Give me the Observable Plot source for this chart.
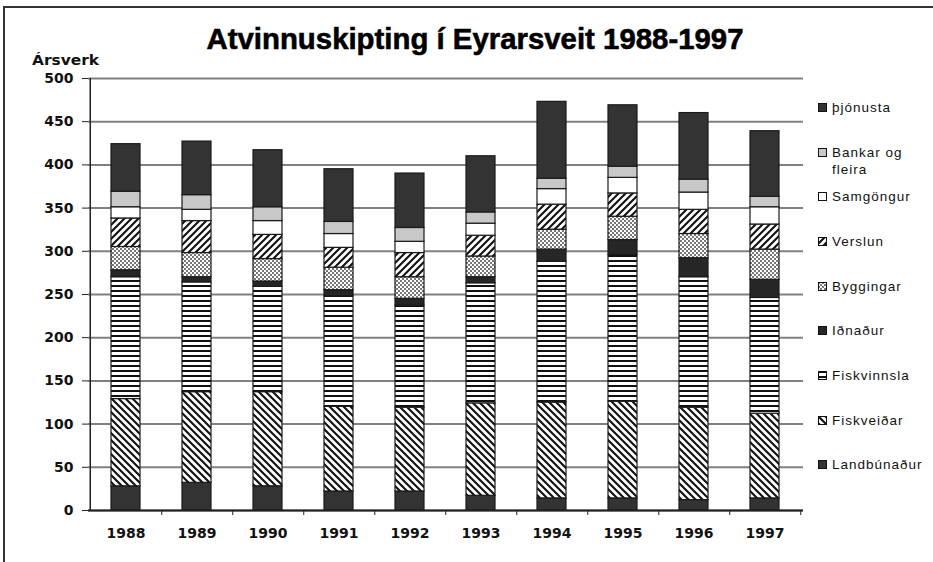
<!DOCTYPE html>
<html>
<head>
<meta charset="utf-8">
<script src="https://cdn.jsdelivr.net/npm/d3@7"></script>
<script src="https://cdn.jsdelivr.net/npm/@observablehq/plot@0.6"></script>
<style>
  body { margin: 0; background: #fff; }
  #wrap { position: relative; width: 933px; height: 562px; overflow: hidden; background: #fff; }
  #frameTop { position: absolute; left: 3px; top: 6px; width: 940px; height: 2px; background: #333; }
  #frameLeft { position: absolute; left: 3px; top: 6px; width: 2px; height: 600px; background: #333; }
  #overlay { position: absolute; left: 0; top: 0; pointer-events: none; }
  #legend { position: absolute; left: 818px; top: 0; font-family: "Liberation Sans", Arial, sans-serif; font-size: 13.5px; letter-spacing: 1px; color: #111; }
  .item { position: absolute; left: 0; display: flex; align-items: flex-start; white-space: nowrap; line-height: 17px; }
  .item svg { margin-top: 4px; margin-right: 5px; flex: none; }
</style>
</head>
<body>
<svg width="0" height="0" style="position:absolute">
  <defs>
    <pattern id="p0" patternUnits="userSpaceOnUse" width="4" height="4">
      <rect width="4" height="4" fill="#333"/>
    </pattern>
    <pattern id="p1" patternUnits="userSpaceOnUse" width="7" height="7">
      <rect width="7" height="7" fill="#fff"/>
      <path d="M-2,-2 L9,9 M-2,5 L2,9 M5,-2 L9,2" stroke="#111" stroke-width="2.1"/>
    </pattern>
    <pattern id="p2" patternUnits="userSpaceOnUse" width="5" height="5">
      <rect width="5" height="5" fill="#fff"/>
      <rect y="0" width="5" height="2" fill="#111"/>
    </pattern>
    <pattern id="p3" patternUnits="userSpaceOnUse" width="4" height="4">
      <rect width="4" height="4" fill="#262626"/>
    </pattern>
    <pattern id="p4" patternUnits="userSpaceOnUse" width="4" height="4">
      <rect width="4" height="4" fill="#fff"/>
      <rect x="0" y="0" width="2" height="2" fill="#777"/>
      <rect x="2" y="2" width="2" height="2" fill="#777"/>
    </pattern>
    <pattern id="p5" patternUnits="userSpaceOnUse" width="7" height="7">
      <rect width="7" height="7" fill="#fff"/>
      <path d="M-2,9 L9,-2 M-2,2 L2,-2 M5,9 L9,5" stroke="#111" stroke-width="2.1"/>
    </pattern>
    <pattern id="p6" patternUnits="userSpaceOnUse" width="4" height="4">
      <rect width="4" height="4" fill="#fff"/>
    </pattern>
    <pattern id="p7" patternUnits="userSpaceOnUse" width="4" height="4">
      <rect width="4" height="4" fill="#c8c8c8"/>
    </pattern>
    <pattern id="p8" patternUnits="userSpaceOnUse" width="4" height="4">
      <rect width="4" height="4" fill="#333"/>
    </pattern>
  </defs>
</svg>
<div id="wrap">
  <div id="chart"></div>
  <div id="frameTop"></div>
  <div id="frameLeft"></div>
  <svg id="overlay" width="933" height="562">
    <text x="475" y="49" text-anchor="middle" font-family="Liberation Sans, Arial, sans-serif" font-weight="bold" font-size="30" textLength="537" lengthAdjust="spacingAndGlyphs" fill="#000" stroke="#000" stroke-width="0.6">Atvinnuskipting í Eyrarsveit 1988-1997</text>
    <text x="32" y="65" font-family="DejaVu Sans" font-weight="bold" font-size="14.5" textLength="67" lengthAdjust="spacingAndGlyphs" fill="#111">Ársverk</text>
  </svg>
  <div id="legend"></div>
</div>
<script>
// ---- data ----
const years = ["1988", "1989", "1990", "1991", "1992", "1993", "1994", "1995", "1996", "1997"];
const series = ["Landbúnaður", "Fiskveiðar", "Fiskvinnsla", "Iðnaður", "Byggingar", "Verslun", "Samgöngur", "Bankar og fleira", "þjónusta"];
const landbunadur = [28, 32, 28, 22, 22, 17, 14, 14, 12, 14];
const fiskveidar  = [101, 105, 109, 98, 97, 107, 111, 112, 107, 98];
const fiskvinnsla = [141, 127, 122, 128, 118, 139, 163, 170, 151, 134];
const idnadur     = [8, 6, 6, 7, 8, 7, 14, 17, 22, 21];
const byggingar   = [27, 28, 26, 26, 25, 24, 23, 27, 28, 35];
const verslun     = [33, 37, 28, 23, 28, 24, 29, 27, 28, 29];
const samgongur   = [13, 13, 16, 16, 13, 14, 18, 18, 20, 20];
const bankar      = [18, 17, 16, 14, 16, 13, 12, 13, 15, 12];
const thjonusta   = [55, 62, 66, 61, 63, 65, 89, 71, 77, 76];
const yTicks = [0, 50, 100, 150, 200, 250, 300, 350, 400, 450, 500];
const legendLabels = ["Landbúnaður", "Fiskveiðar", "Fiskvinnsla", "Iðnaður", "Byggingar", "Verslun", "Samgöngur", "Bankar og<br>fleira", "þjónusta"];

const values = [landbunadur, fiskveidar, fiskvinnsla, idnadur, byggingar, verslun, samgongur, bankar, thjonusta];
const fills = series.map((s, k) => `url(#p${k})`);

const rows = [];
series.forEach((s, k) => values[k].forEach((v, i) => rows.push({year: years[i], series: s, value: v})));

const W = 933, H = 562, ML = 88, MR = 130, MT = 78, MB = 52;
const step = (W - ML - MR) / years.length;

const plot = Plot.plot({
  width: W, height: H,
  marginLeft: ML, marginRight: MR, marginTop: MT, marginBottom: MB,
  style: {fontFamily: "DejaVu Sans", fontSize: "14px", fontWeight: "bold", color: "#111", background: "transparent", overflow: "visible"},
  x: {domain: years, paddingInner: 0.587, paddingOuter: 0.2935, label: null},
  y: {domain: [0, 500], label: null},
  color: {domain: series, range: fills},
  marks: [
    Plot.ruleY(yTicks, {stroke: "#808080", strokeWidth: 2}),
    Plot.barY(rows, {x: "year", y: "value", fill: "series", stroke: "#1a1a1a", strokeWidth: 1.2}),
    Plot.ruleY([0], {stroke: "#222", strokeWidth: 2}),
    Plot.ruleX([years[0]], {dx: -step / 2, y1: 0, y2: 500, stroke: "#222", strokeWidth: 1.5}),
    Plot.axisY({ticks: yTicks, tickSize: 6, tickPadding: 9, label: null, stroke: "#222"}),
    Plot.axisX({tickSize: 0, tickPadding: 18, label: null}),
    Plot.axisX({tickSize: 5, tickFormat: () => "", dx: step / 2, label: null, stroke: "#222"})
  ]
});
document.getElementById("chart").appendChild(plot);

// legend (top to bottom = reverse stack order)
const legendTops = [465, 421, 376, 331, 287, 242, 197, 153, 108];
const legend = document.getElementById("legend");
series.forEach((s, k) => {
  const div = document.createElement("div");
  div.className = "item";
  div.style.top = (legendTops[k] - 9) + "px";
  div.innerHTML = `<svg width="9" height="9"><rect x="0.5" y="0.5" width="8" height="8" fill="${fills[k]}" stroke="#111" stroke-width="1"/></svg><span>${legendLabels[k]}</span>`;
  legend.appendChild(div);
});
</script>
</body>
</html>
